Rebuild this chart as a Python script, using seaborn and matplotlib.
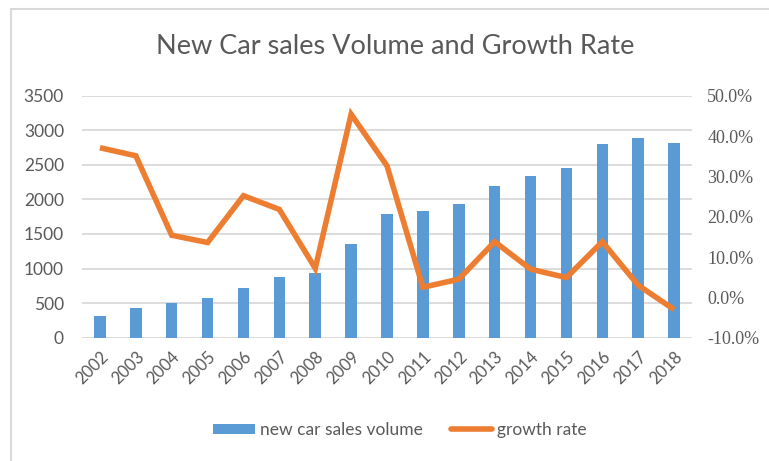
import numpy as np
import pandas as pd
import matplotlib
matplotlib.use("Agg")
import matplotlib.pyplot as plt
import seaborn as sns
from matplotlib.ticker import MultipleLocator
from matplotlib.lines import Line2D
from matplotlib.patches import Patch

years = list(range(2002, 2019))
sales_volume = [318, 434, 506, 575, 719, 874, 932, 1356, 1795, 1838,
                1930, 2195, 2340, 2460, 2799, 2886, 2813]
growth_rate = [37.1, 35.1, 15.4, 13.6, 25.2, 21.8, 7.2, 45.4, 32.6, 2.5,
               4.5, 13.8, 7.0, 4.9, 13.8, 3.0, -3.0]
rate_ticks = [-10, 0, 10, 20, 30, 40, 50]
title = "New Car sales Volume and Growth Rate"
bar_label = "new car sales volume"
line_label = "growth rate"

df = pd.DataFrame({"year": years, "volume": sales_volume, "growth": growth_rate})

sns.set_theme(style="white")
plt.rcParams["font.family"] = ["Lato", "DejaVu Sans"]

BLUE = "#5B9BD5"
ORANGE = "#ED7D31"
GRID = "#D9D9D9"
TEXT = "#595959"

fig = plt.figure(figsize=(7.69, 4.61), dpi=100)
ax = fig.add_axes([82 / 769, 1 - 337.7 / 461, (692 - 82) / 769, (337.7 - 95.7) / 461])

sns.barplot(data=df, x="year", y="volume", native_scale=True, color=BLUE,
            width=0.32, ax=ax, saturation=1, linewidth=0)
ax.set_xlim(years[0] - 0.5, years[-1] + 0.5)
ax.set_ylim(0, 3500)
ax.yaxis.set_major_locator(MultipleLocator(500))
ax.grid(axis="y", color=GRID, linewidth=1.3)
ax.grid(axis="x", visible=False)
ax.set_axisbelow(True)
for s in ax.spines.values():
    s.set_visible(False)
ax.set_xlabel("")
ax.set_ylabel("")
ax.set_xticks(years)
ax.set_xticklabels([str(y) for y in years], rotation=45, ha="right",
                   rotation_mode="anchor", fontsize=12, color=TEXT)
ax.tick_params(axis="x", length=0, pad=8)
ax.tick_params(axis="y", length=0, pad=13, labelsize=12.5, labelcolor=TEXT)

ax2 = ax.twinx()
sns.lineplot(data=df, x="year", y="growth", color=ORANGE, linewidth=4,
             ax=ax2, solid_joinstyle="miter", solid_capstyle="butt")
ax2.set_ylim(rate_ticks[0], rate_ticks[-1])
ax2.set_yticks(rate_ticks, labels=[f"{v:.1f}%" for v in rate_ticks],
               fontfamily="Liberation Serif", fontsize=13, color=TEXT)
ax2.tick_params(axis="y", length=0, pad=11)
ax2.grid(False)
for s in ax2.spines.values():
    s.set_visible(False)
ax2.set_xlabel("")
ax2.set_ylabel("")

fig.text(395 / 769, 1 - 47 / 461, title, ha="center", va="center",
         fontsize=19.5, color=TEXT)

handles = [Patch(facecolor=BLUE, edgecolor="none"),
           Line2D([0], [0], color=ORANGE, linewidth=4)]
fig.legend(handles, [bar_label, line_label], loc="center",
           bbox_to_anchor=(400 / 769, 1 - 430 / 461), ncol=2, frameon=False,
           fontsize=12.5, handlelength=2.4, handleheight=0.5, handletextpad=0.3,
           columnspacing=1.6, labelcolor=TEXT)

fig.add_artist(Line2D([11 / 769, 11 / 769], [0, 1 - 9 / 461], color=GRID,
                      linewidth=1.5, transform=fig.transFigure))
fig.add_artist(Line2D([11 / 769, 1], [1 - 9 / 461, 1 - 9 / 461], color=GRID,
                      linewidth=1.5, transform=fig.transFigure))

fig.savefig("out.png", dpi=100)
